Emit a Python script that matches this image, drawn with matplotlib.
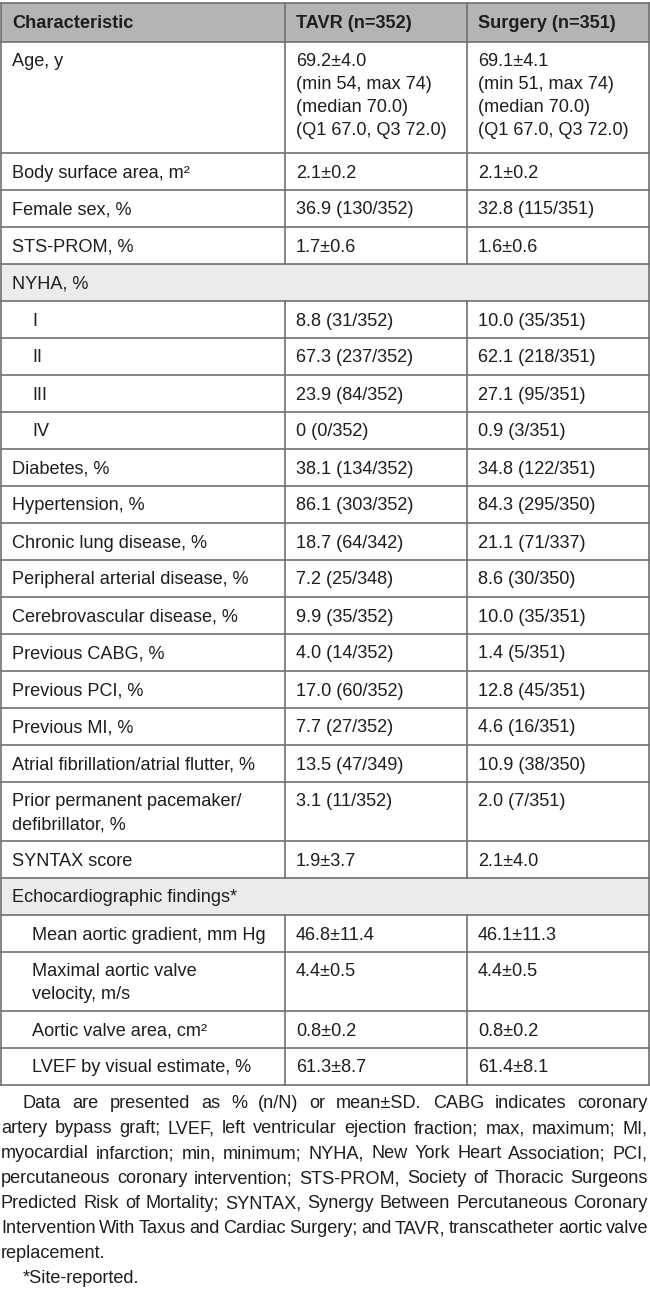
import matplotlib
matplotlib.use("Agg")
import matplotlib.pyplot as plt
from matplotlib.patches import Rectangle

# Table content
characteristics = [
    "Age, y", "Body surface area, m\u00b2", "Female sex, %", "STS-PROM, %", "NYHA, %",
    "I", "II", "III", "IV", "Diabetes, %", "Hypertension, %", "Chronic lung disease, %",
    "Peripheral arterial disease, %", "Cerebrovascular disease, %", "Previous CABG, %",
    "Previous PCI, %", "Previous MI, %", "Atrial fibrillation/atrial flutter, %",
    "Prior permanent pacemaker/\ndefibrillator, %", "SYNTAX score",
    "Echocardiographic findings*", "Mean aortic gradient, mm Hg",
    "Maximal aortic valve\nvelocity, m/s", "Aortic valve area, cm\u00b2",
    "LVEF by visual estimate, %",
]
tavr = [
    "69.2\u00b14.0\n(min 54, max 74)\n(median 70.0)\n(Q1 67.0, Q3 72.0)", "2.1\u00b10.2",
    "36.9 (130/352)", "1.7\u00b10.6", "", "8.8 (31/352)", "67.3 (237/352)", "23.9 (84/352)",
    "0 (0/352)", "38.1 (134/352)", "86.1 (303/352)", "18.7 (64/342)", "7.2 (25/348)",
    "9.9 (35/352)", "4.0 (14/352)", "17.0 (60/352)", "7.7 (27/352)", "13.5 (47/349)",
    "3.1 (11/352)", "1.9\u00b13.7", "", "46.8\u00b111.4", "4.4\u00b10.5", "0.8\u00b10.2",
    "61.3\u00b18.7",
]
surgery = [
    "69.1\u00b14.1\n(min 51, max 74)\n(median 70.0)\n(Q1 67.0, Q3 72.0)", "2.1\u00b10.2",
    "32.8 (115/351)", "1.6\u00b10.6", "", "10.0 (35/351)", "62.1 (218/351)", "27.1 (95/351)",
    "0.9 (3/351)", "34.8 (122/351)", "84.3 (295/350)", "21.1 (71/337)", "8.6 (30/350)",
    "10.0 (35/351)", "1.4 (5/351)", "12.8 (45/351)", "4.6 (16/351)", "10.9 (38/350)",
    "2.0 (7/351)", "2.1\u00b14.0", "", "46.1\u00b111.3", "4.4\u00b10.5", "0.8\u00b10.2",
    "61.4\u00b18.1",
]
indented = ["I", "II", "III", "IV", "Mean aortic gradient, mm Hg",
            "Maximal aortic valve\nvelocity, m/s", "Aortic valve area, cm\u00b2",
            "LVEF by visual estimate, %"]
sections = ["NYHA, %", "Echocardiographic findings*"]
headers = ["Characteristic", "TAVR (n=352)", "Surgery (n=351)"]

footnote_lines = [
    "Data are presented as % (n/N) or mean\u00b1SD. CABG indicates coronary",
    "artery bypass graft; LVEF, left ventricular ejection fraction; max, maximum; MI,",
    "myocardial infarction; min, minimum; NYHA, New York Heart Association; PCI,",
    "percutaneous coronary intervention; STS-PROM, Society of Thoracic Surgeons",
    "Predicted Risk of Mortality; SYNTAX, Synergy Between Percutaneous Coronary",
    "Intervention With Taxus and Cardiac Surgery; and TAVR, transcatheter aortic valve",
    "replacement.",
]
site_note = "*Site-reported."

W, H = 650, 1297
fig = plt.figure(figsize=(W / 100, H / 100), dpi=100)
ax = fig.add_axes([0, 0, 1, 1])
ax.set_xlim(0, W)
ax.set_ylim(H, 0)
ax.axis("off")

plt.rcParams["font.family"] = ["Liberation Sans", "DejaVu Sans"]
txt_color = "#1e1e1e"
line_color = "#707070"
fs = 13.1

col_x = [1, 285, 467, 649]
top = 3
header_h = 39
line_h = 22.8


def row_height(i):
    n = max(characteristics[i].count("\n"), tavr[i].count("\n"), surgery[i].count("\n")) + 1
    if n == 1:
        return 37
    if n == 2:
        return 59
    return 111


# header
ax.add_patch(Rectangle((col_x[0], top), col_x[3] - col_x[0], header_h,
                       facecolor="#b4b4b4", edgecolor="none"))
for j, h in enumerate(headers):
    ax.text(col_x[j] + 11, top + header_h / 2 + 1, h, fontsize=fs, fontweight="bold",
            color=txt_color, va="center", ha="left")

y = top + header_h
ys = [top, y]
for i, name in enumerate(characteristics):
    rh = row_height(i)
    if name in sections:
        ax.add_patch(Rectangle((col_x[0], y), col_x[3] - col_x[0], rh,
                               facecolor="#ebebeb", edgecolor="none"))
    x0 = col_x[0] + (31 if name in indented else 11)
    cells = [name, tavr[i], surgery[i]]
    for j, c in enumerate(cells):
        xx = x0 if j == 0 else col_x[j] + 11
        for k, part in enumerate(c.split("\n")):
            ax.text(xx, y + 20 + k * line_h, part, fontsize=fs, color=txt_color,
                    va="center", ha="left")
    # vertical separators (none inside section rows)
    if name not in sections:
        for xv in col_x[1:3]:
            ax.plot([xv, xv], [y, y + rh], color=line_color, lw=1.2)
    y += rh
    ys.append(y)

# header vertical separators
for xv in col_x[1:3]:
    ax.plot([xv, xv], [top, top + header_h], color=line_color, lw=1.2)
# horizontal lines and outer border
for yy in ys:
    ax.plot([col_x[0], col_x[3]], [yy, yy], color=line_color, lw=1.2)
for xv in (col_x[0], col_x[3]):
    ax.plot([xv, xv], [top, ys[-1]], color=line_color, lw=1.2)

# footnote, justified
fig.canvas.draw()
renderer = fig.canvas.get_renderer()


def text_width(s, size):
    t = ax.text(0, 0, s, fontsize=size)
    bb = t.get_window_extent(renderer=renderer)
    t.remove()
    return bb.width


left, right = 1, 648
indent = 22
fn_y = ys[-1] + 19
fn_step = 24.9

# shrink the footnote font until every justified line keeps a sensible gap
fn_fs = fs
while True:
    ok = True
    for k, line in enumerate(footnote_lines[:-1]):
        words = line.split(" ")
        x_start = left + (indent if k == 0 else 0)
        gap = (right - x_start - sum(text_width(w, fn_fs) for w in words)) / (len(words) - 1)
        if gap < 3.2:
            ok = False
            break
    if ok or fn_fs < 9:
        break
    fn_fs -= 0.1

for k, line in enumerate(footnote_lines):
    yy = fn_y + k * fn_step
    x_start = left + (indent if k == 0 else 0)
    words = line.split(" ")
    if k == len(footnote_lines) - 1:
        ax.text(x_start, yy, line, fontsize=fn_fs, color=txt_color, va="center", ha="left")
        continue
    widths = [text_width(w, fn_fs) for w in words]
    gap = (right - x_start - sum(widths)) / (len(words) - 1)
    xx = x_start
    for w, wd in zip(words, widths):
        ax.text(xx, yy, w, fontsize=fn_fs, color=txt_color, va="center", ha="left")
        xx += wd + gap

ax.text(left + indent, fn_y + len(footnote_lines) * fn_step, site_note,
        fontsize=fn_fs, color=txt_color, va="center", ha="left")

fig.savefig("out.png", dpi=100)
